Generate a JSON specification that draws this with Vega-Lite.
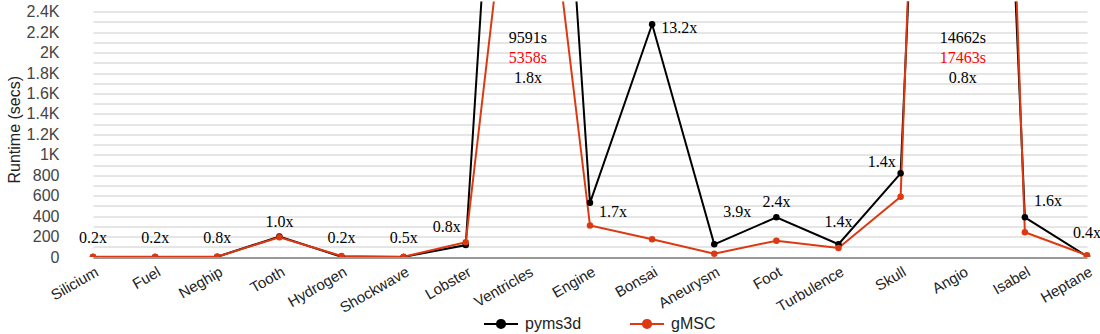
{
  "$schema": "https://vega.github.io/schema/vega-lite/v6.json",
  "width": 1038,
  "height": 255.5,
  "autosize": {"type": "none"},
  "padding": {"left": 62, "top": 1.5, "right": 0, "bottom": 77},
  "background": "white",
  "config": {
    "view": {"stroke": null},
    "font": "Liberation Sans"
  },
  "datasets": {
    "runs": [
      {"name": "Silicium", "series": "pyms3d", "secs": 0.4},
      {"name": "Fuel", "series": "pyms3d", "secs": 0.3},
      {"name": "Neghip", "series": "pyms3d", "secs": 2},
      {"name": "Tooth", "series": "pyms3d", "secs": 200},
      {"name": "Hydrogen", "series": "pyms3d", "secs": 2},
      {"name": "Shockwave", "series": "pyms3d", "secs": 1},
      {"name": "Lobster", "series": "pyms3d", "secs": 117},
      {"name": "Ventricles", "series": "pyms3d", "secs": 9591},
      {"name": "Engine", "series": "pyms3d", "secs": 530},
      {"name": "Bonsai", "series": "pyms3d", "secs": 2277},
      {"name": "Aneurysm", "series": "pyms3d", "secs": 124},
      {"name": "Foot", "series": "pyms3d", "secs": 388},
      {"name": "Turbulence", "series": "pyms3d", "secs": 125},
      {"name": "Skull", "series": "pyms3d", "secs": 819},
      {"name": "Angio", "series": "pyms3d", "secs": 14662},
      {"name": "Isabel", "series": "pyms3d", "secs": 388},
      {"name": "Heptane", "series": "pyms3d", "secs": 7},
      {"name": "Silicium", "series": "gMSC", "secs": 2},
      {"name": "Fuel", "series": "gMSC", "secs": 1.5},
      {"name": "Neghip", "series": "gMSC", "secs": 2.5},
      {"name": "Tooth", "series": "gMSC", "secs": 194},
      {"name": "Hydrogen", "series": "gMSC", "secs": 10},
      {"name": "Shockwave", "series": "gMSC", "secs": 2},
      {"name": "Lobster", "series": "gMSC", "secs": 144},
      {"name": "Ventricles", "series": "gMSC", "secs": 5358},
      {"name": "Engine", "series": "gMSC", "secs": 308},
      {"name": "Bonsai", "series": "gMSC", "secs": 173},
      {"name": "Aneurysm", "series": "gMSC", "secs": 32},
      {"name": "Foot", "series": "gMSC", "secs": 160},
      {"name": "Turbulence", "series": "gMSC", "secs": 88},
      {"name": "Skull", "series": "gMSC", "secs": 590},
      {"name": "Angio", "series": "gMSC", "secs": 17463},
      {"name": "Isabel", "series": "gMSC", "secs": 242},
      {"name": "Heptane", "series": "gMSC", "secs": 17}
    ],
    "notes": [
      {"name": "Silicium", "note": "0.2x", "at": 186, "anchor": "above", "kind": "speedup"},
      {"name": "Fuel", "note": "0.2x", "at": 186, "anchor": "above", "kind": "speedup"},
      {"name": "Neghip", "note": "0.8x", "at": 186, "anchor": "above", "kind": "speedup"},
      {"name": "Tooth", "note": "1.0x", "at": 342, "anchor": "above", "kind": "speedup"},
      {"name": "Hydrogen", "note": "0.2x", "at": 186, "anchor": "above", "kind": "speedup"},
      {"name": "Shockwave", "note": "0.5x", "at": 186, "anchor": "above", "kind": "speedup"},
      {"name": "Lobster", "note": "0.8x", "at": 294, "anchor": "left", "kind": "speedup"},
      {"name": "Ventricles", "note": "9591s", "at": 2146, "anchor": "above", "kind": "pyms3d"},
      {"name": "Ventricles", "note": "5358s", "at": 1944, "anchor": "above", "kind": "gMSC"},
      {"name": "Ventricles", "note": "1.8x", "at": 1749, "anchor": "above", "kind": "speedup"},
      {"name": "Engine", "note": "1.7x", "at": 440, "anchor": "right", "kind": "speedup"},
      {"name": "Bonsai", "note": "13.2x", "at": 2240, "anchor": "right", "kind": "speedup"},
      {"name": "Aneurysm", "note": "3.9x", "at": 440, "anchor": "right", "kind": "speedup"},
      {"name": "Foot", "note": "2.4x", "at": 538, "anchor": "above", "kind": "speedup"},
      {"name": "Turbulence", "note": "1.4x", "at": 342, "anchor": "above", "kind": "speedup"},
      {"name": "Skull", "note": "1.4x", "at": 930, "anchor": "left", "kind": "speedup"},
      {"name": "Angio", "note": "14662s", "at": 2146, "anchor": "above", "kind": "pyms3d"},
      {"name": "Angio", "note": "17463s", "at": 1944, "anchor": "above", "kind": "gMSC"},
      {"name": "Angio", "note": "0.8x", "at": 1749, "anchor": "above", "kind": "speedup"},
      {"name": "Isabel", "note": "1.6x", "at": 551, "anchor": "right", "kind": "speedup"},
      {"name": "Heptane", "note": "0.4x", "at": 235, "anchor": "above", "kind": "speedup"}
    ]
  },
  "encoding": {
    "x": {
      "field": "name",
      "type": "nominal",
      "sort": null,
      "scale": {
        "type": "point",
        "domain": ["Silicium", "Fuel", "Neghip", "Tooth", "Hydrogen", "Shockwave", "Lobster", "Ventricles", "Engine", "Bonsai", "Aneurysm", "Foot", "Turbulence", "Skull", "Angio", "Isabel", "Heptane"],
        "range": [31, 1025],
        "padding": 0
      },
      "axis": {
        "title": null,
        "labelAngle": -30,
        "labelFontSize": 15,
        "labelColor": "#222222",
        "labelPadding": 7,
        "labelOverlap": false,
        "ticks": false,
        "domain": false,
        "grid": false
      }
    }
  },
  "layer": [
    {
      "data": {"name": "runs"},
      "mark": {
        "type": "line",
        "strokeWidth": 2,
        "clip": true,
        "point": {"filled": true, "size": 42}
      },
      "encoding": {
        "y": {
          "field": "secs",
          "type": "quantitative",
          "scale": {"domain": [0, 2500], "nice": false, "zero": true},
          "axis": {
            "title": "Runtime (secs)",
            "titleFontSize": 16,
            "titleFontWeight": "normal",
            "titleColor": "#222222",
            "titlePadding": 4,
            "tickCount": 30,
            "values": [0, 100, 200, 300, 400, 500, 600, 700, 800, 900, 1000, 1100, 1200, 1300, 1400, 1500, 1600, 1700, 1800, 1900, 2000, 2100, 2200, 2300, 2400],
            "labelExpr": "datum.value % 200 !== 0 ? '' : (datum.value >= 1000 ? (datum.value / 1000) + 'K' : datum.value + '')",
            "labelOverlap": false,
            "labelFontSize": 16,
            "labelColor": "#444444",
            "labelPadding": 3,
            "ticks": false,
            "domain": false,
            "grid": true,
            "gridColor": {"condition": {"test": "datum.value === 0", "value": "#333333"}, "value": "#cccccc"},
            "gridWidth": 1
          }
        },
        "color": {
          "field": "series",
          "type": "nominal",
          "scale": {"domain": ["pyms3d", "gMSC"], "range": ["#000000", "#dc3912"]},
          "legend": {
            "orient": "none",
            "legendX": 421,
            "legendY": 304,
            "direction": "horizontal",
            "title": null,
            "symbolType": "M-1,0H1M-0.24,0A0.24,0.24 0 1,0 0.24,0A0.24,0.24 0 1,0 -0.24,0Z",
            "symbolSize": 1156,
            "symbolStrokeWidth": 2,
            "labelFontSize": 16,
            "labelColor": "#222222",
            "labelOffset": 6,
            "columnPadding": 44,
            "encode": {"symbols": {"update": {"fill": {"scale": "color", "field": "value"}}}}
          }
        }
      }
    },
    {
      "data": {"name": "notes"},
      "transform": [{"filter": "datum.anchor === 'above'"}],
      "mark": {"type": "text", "font": "Liberation Serif", "fontSize": 16, "align": "center", "baseline": "middle"},
      "encoding": {
        "y": {"field": "at", "type": "quantitative"},
        "text": {"field": "note"},
        "color": {"condition": {"test": "datum.kind === 'gMSC'", "value": "#ff0000"}, "value": "#000000"}
      }
    },
    {
      "data": {"name": "notes"},
      "transform": [{"filter": "datum.anchor === 'left'"}],
      "mark": {"type": "text", "font": "Liberation Serif", "fontSize": 16, "align": "right", "baseline": "middle", "dx": -5},
      "encoding": {
        "y": {"field": "at", "type": "quantitative"},
        "text": {"field": "note"},
        "color": {"value": "#000000"}
      }
    },
    {
      "data": {"name": "notes"},
      "transform": [{"filter": "datum.anchor === 'right'"}],
      "mark": {"type": "text", "font": "Liberation Serif", "fontSize": 16, "align": "left", "baseline": "middle", "dx": 9},
      "encoding": {
        "y": {"field": "at", "type": "quantitative"},
        "text": {"field": "note"},
        "color": {"value": "#000000"}
      }
    }
  ]
}
